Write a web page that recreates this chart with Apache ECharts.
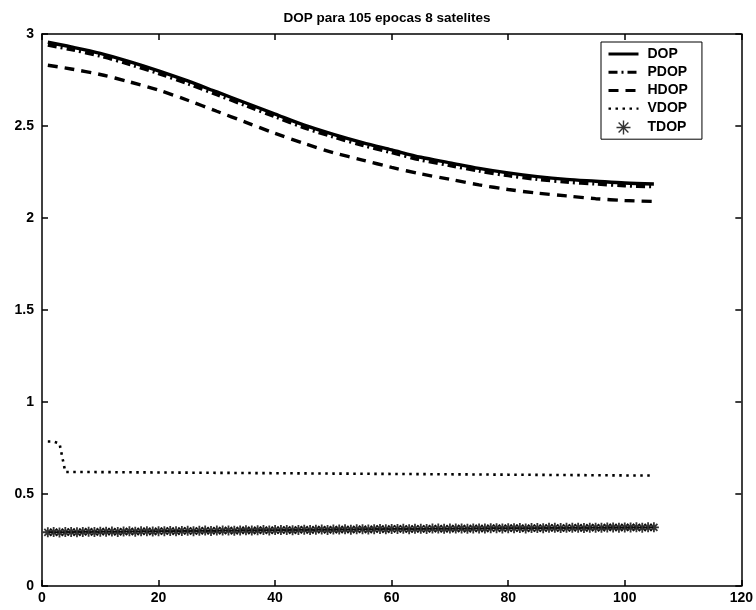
<!DOCTYPE html>
<html>
<head>
<meta charset="utf-8">
<script src="https://cdn.jsdelivr.net/npm/echarts@6/dist/echarts.min.js"></script>
<style>
  html, body { margin: 0; padding: 0; background: #fff; }
  #chart { width: 756px; height: 610px; }
</style>
</head>
<body>
<div id="chart"></div>
<script>
// Epochs sampled for the smooth DOP curves
const curveEpochs = [1, 5, 10, 15, 20, 25, 30, 35, 40, 45, 50, 55, 60, 65, 70, 75, 80, 85, 90, 95, 100, 105];
const dopValues  = [2.955, 2.93, 2.895, 2.85, 2.80, 2.745, 2.685, 2.625, 2.565, 2.505, 2.455, 2.41, 2.37, 2.33, 2.30, 2.27, 2.245, 2.225, 2.21, 2.20, 2.19, 2.185];
const pdopValues = [2.94, 2.915, 2.88, 2.835, 2.785, 2.73, 2.67, 2.61, 2.55, 2.49, 2.44, 2.395, 2.355, 2.315, 2.285, 2.255, 2.23, 2.21, 2.195, 2.185, 2.175, 2.17];
const hdopValues = [2.83, 2.81, 2.78, 2.74, 2.695, 2.64, 2.58, 2.52, 2.46, 2.405, 2.355, 2.315, 2.275, 2.24, 2.21, 2.18, 2.155, 2.135, 2.12, 2.105, 2.095, 2.09];

// VDOP has a step during the first epochs
const vdopEpochs = [1, 2, 3, 4, 10, 20, 30, 40, 50, 60, 70, 80, 90, 100, 105];
const vdopValues = [0.785, 0.785, 0.775, 0.62, 0.619, 0.617, 0.615, 0.613, 0.611, 0.609, 0.607, 0.605, 0.603, 0.601, 0.600];

// TDOP, one value per epoch (1..105)
const tdopValues = [
  0.292, 0.293, 0.291, 0.293, 0.294, 0.292, 0.294, 0.295, 0.293, 0.295,
  0.295, 0.296, 0.294, 0.296, 0.297, 0.295, 0.297, 0.298, 0.296, 0.298,
  0.298, 0.299, 0.297, 0.299, 0.300, 0.298, 0.300, 0.301, 0.299, 0.301,
  0.301, 0.302, 0.300, 0.302, 0.303, 0.301, 0.303, 0.304, 0.302, 0.304,
  0.304, 0.305, 0.303, 0.305, 0.306, 0.304, 0.306, 0.307, 0.305, 0.307,
  0.307, 0.308, 0.306, 0.308, 0.309, 0.307, 0.309, 0.310, 0.308, 0.310,
  0.310, 0.311, 0.309, 0.311, 0.311, 0.310, 0.312, 0.312, 0.311, 0.312,
  0.312, 0.313, 0.311, 0.313, 0.313, 0.312, 0.314, 0.314, 0.313, 0.314,
  0.314, 0.315, 0.313, 0.315, 0.315, 0.314, 0.316, 0.316, 0.315, 0.316,
  0.316, 0.317, 0.315, 0.317, 0.317, 0.316, 0.318, 0.318, 0.317, 0.318,
  0.318, 0.319, 0.317, 0.319, 0.319
];

const seriesNames = ['DOP', 'PDOP', 'HDOP', 'VDOP', 'TDOP'];
const chartTitle = 'DOP para 105 epocas 8 satelites';

const pairs = (xs, ys) => xs.map((x, i) => [x, ys[i]]);
const tdopData = tdopValues.map((v, i) => [i + 1, v]);

const FONT = '"Liberation Sans", Arial, Helvetica, sans-serif';
const asterisk = 'path://M5,0L5,10M0,5L10,5M1.5,1.5L8.5,8.5M1.5,8.5L8.5,1.5';

// line styles shared by the series and their legend samples
const lineStyles = {
  DOP:  { color: '#000', width: 3.4, type: 'solid' },
  PDOP: { color: '#000', width: 3.4, type: [9, 4, 2, 4] },
  HDOP: { color: '#000', width: 3.4, type: [10, 7] },
  VDOP: { color: '#000', width: 2.6, type: [2.5, 4.5] }
};

const axisCommon = {
  type: 'value',
  axisLine: { show: true, onZero: false, lineStyle: { color: '#000', width: 1.5 } },
  axisTick: { show: true, inside: true, length: 6, lineStyle: { color: '#000', width: 1.5 } },
  splitLine: { show: false },
  minorTick: { show: false }
};
const labelStyle = { color: '#000', fontFamily: FONT, fontWeight: 'bold', fontSize: 14 };

// legend entries: line samples without a marker, asterisk for TDOP
const legendData = seriesNames.map(name => name === 'TDOP'
  ? { name: name, icon: asterisk, itemStyle: { color: 'rgba(0,0,0,0)', borderColor: '#000', borderWidth: 1.4 } }
  : { name: name, itemStyle: { opacity: 0 }, lineStyle: Object.assign({}, lineStyles[name], { width: lineStyles[name].width - 0.4 }) });

const chart = echarts.init(document.getElementById('chart'), null, { renderer: 'canvas' });
chart.setOption({
  backgroundColor: '#fff',
  animation: false,
  title: {
    text: chartTitle,
    left: 382,
    top: 6,
    textAlign: 'center',
    textStyle: { color: '#000', fontFamily: FONT, fontWeight: 'bold', fontSize: 13.5 }
  },
  grid: { left: 42, top: 34, right: 14, bottom: 24, containLabel: false },
  legend: {
    orient: 'vertical',
    left: 601,
    top: 42,
    data: legendData,
    itemWidth: 30,
    itemHeight: 14,
    itemGap: 4.2,
    padding: [5, 14, 4, 6],
    borderColor: '#000',
    borderWidth: 1,
    borderRadius: 0,
    backgroundColor: '#fff',
    textStyle: { color: '#000', fontFamily: FONT, fontWeight: 'bold', fontSize: 14, padding: [0, 0, 0, 4] }
  },
  xAxis: [
    Object.assign({}, axisCommon, {
      position: 'bottom', min: 0, max: 120, interval: 20,
      axisLabel: Object.assign({ margin: 5 }, labelStyle)
    }),
    Object.assign({}, axisCommon, {
      position: 'top', min: 0, max: 120, interval: 20,
      axisLabel: { show: false }
    })
  ],
  yAxis: [
    Object.assign({}, axisCommon, {
      position: 'left', min: 0, max: 3, interval: 0.5,
      axisLabel: Object.assign({ margin: 8 }, labelStyle)
    }),
    Object.assign({}, axisCommon, {
      position: 'right', min: 0, max: 3, interval: 0.5,
      axisLabel: { show: false }
    })
  ],
  series: [
    {
      name: 'TDOP', type: 'scatter', data: tdopData,
      symbol: asterisk, symbolSize: 10,
      itemStyle: { color: 'rgba(0,0,0,0)', borderColor: '#000', borderWidth: 1.8 },
      z: 1
    },
    {
      name: 'VDOP', type: 'line', data: pairs(vdopEpochs, vdopValues),
      symbol: 'none', showSymbol: false,
      itemStyle: { color: '#000' },
      lineStyle: lineStyles.VDOP,
      z: 2
    },
    {
      name: 'HDOP', type: 'line', data: pairs(curveEpochs, hdopValues),
      symbol: 'none', showSymbol: false, smooth: 0.3,
      itemStyle: { color: '#000' },
      lineStyle: lineStyles.HDOP,
      z: 3
    },
    {
      name: 'PDOP', type: 'line', data: pairs(curveEpochs, pdopValues),
      symbol: 'none', showSymbol: false, smooth: 0.3,
      itemStyle: { color: '#000' },
      lineStyle: lineStyles.PDOP,
      z: 4
    },
    {
      name: 'DOP', type: 'line', data: pairs(curveEpochs, dopValues),
      symbol: 'none', showSymbol: false, smooth: 0.3,
      itemStyle: { color: '#000' },
      lineStyle: lineStyles.DOP,
      z: 5
    }
  ]
});
</script>
</body>
</html>
